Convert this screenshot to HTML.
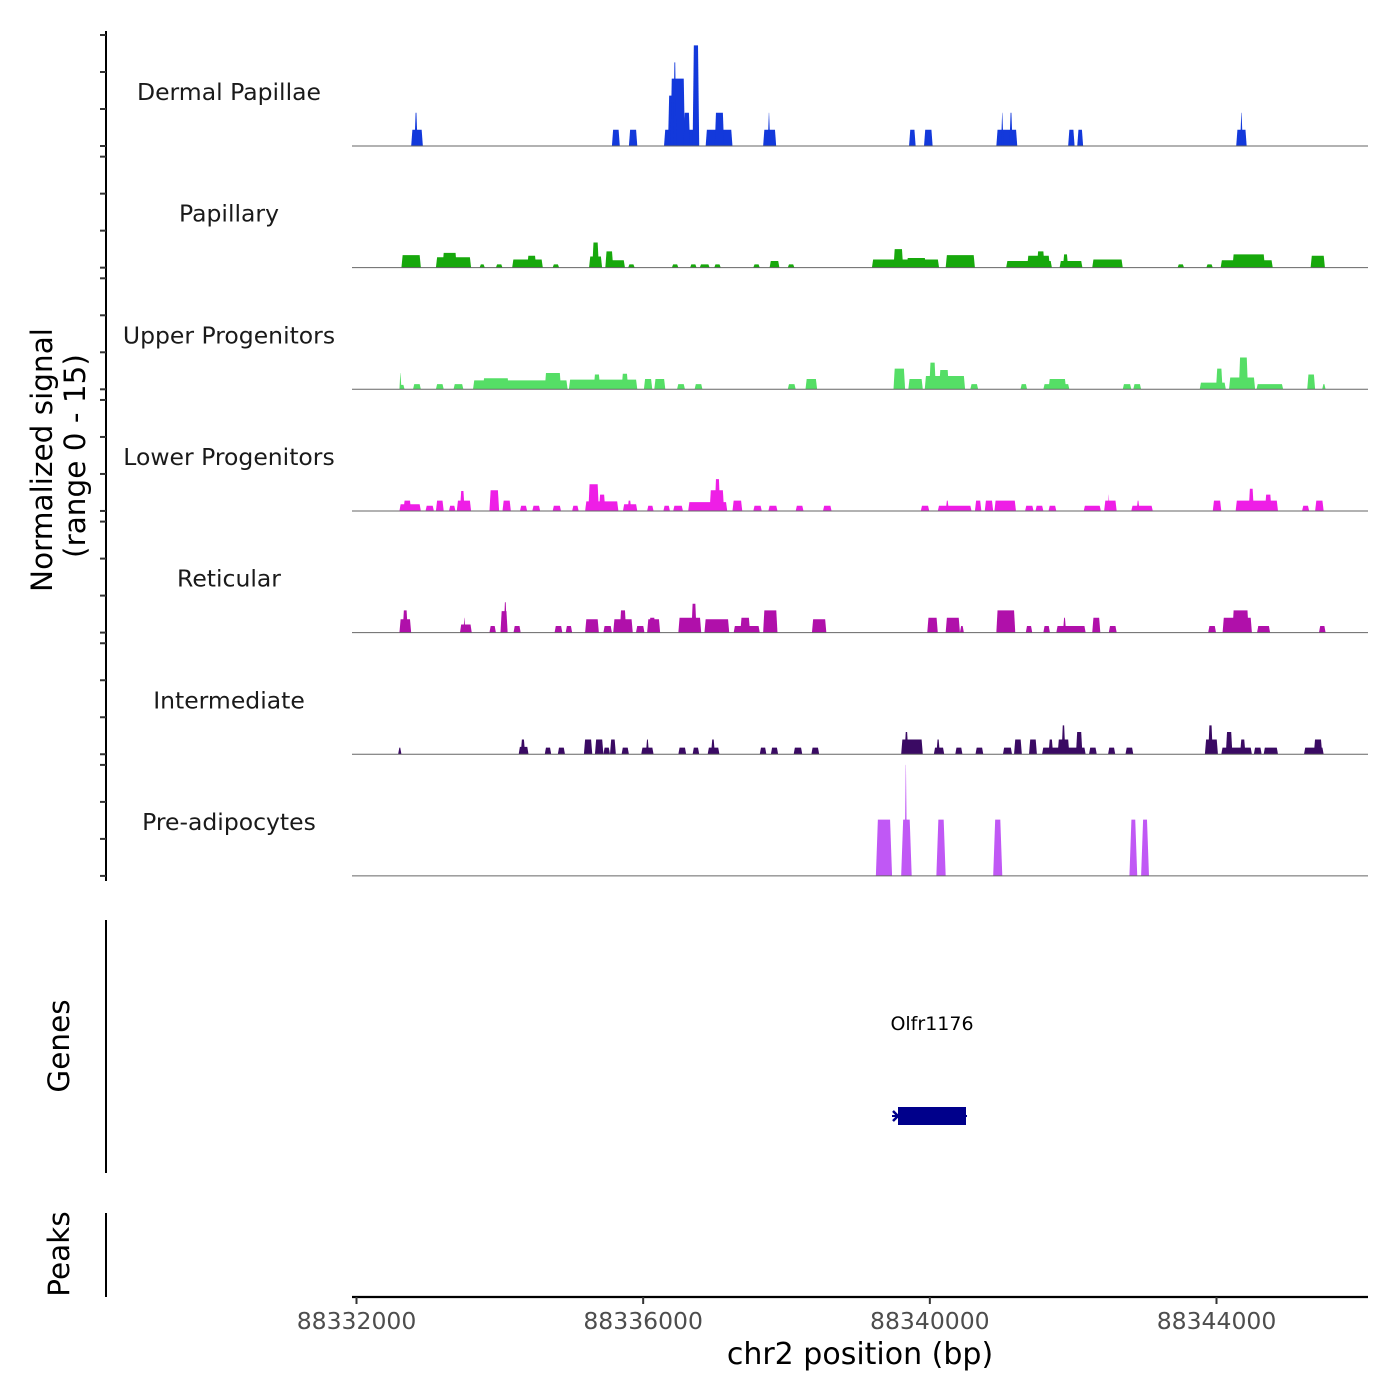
<!DOCTYPE html>
<html><head><meta charset="utf-8">
<style>
html,body{margin:0;padding:0;background:#fff;}
svg{display:block;font-family:"DejaVu Sans","Liberation Sans",sans-serif;}
</style></head>
<body>
<svg id="chart" width="1400" height="1400" viewBox="0 0 1400 1400" xmlns="http://www.w3.org/2000/svg">
  <rect width="1400" height="1400" fill="#fff"/>
  <g id="tracks"></g>
  <g id="leftaxis"></g>
  <text transform="translate(52,460) rotate(-90)" text-anchor="middle" font-size="29.5" fill="#000">Normalized signal</text>
  <text transform="translate(85,456) rotate(-90)" text-anchor="middle" font-size="29.5" fill="#000">(range 0 - 15)</text>

  <line x1="106" y1="920" x2="106" y2="1173" stroke="#000" stroke-width="2"/>
  <text transform="translate(69,1046) rotate(-90)" text-anchor="middle" font-size="29.5" fill="#000">Genes</text>
  <text x="932" y="1030" text-anchor="middle" font-size="19" fill="#000">Olfr1176</text>
  <g>
    <line x1="892" y1="1116" x2="967" y2="1116" stroke="#00008B" stroke-width="2"/>
    <rect x="898" y="1107" width="68" height="18" fill="#00008B"/>
    <polyline points="893,1111 898,1116 893,1121" fill="none" stroke="#00008B" stroke-width="2.5"/>
  </g>

  <line x1="106" y1="1213" x2="106" y2="1297" stroke="#000" stroke-width="2"/>
  <text transform="translate(69,1254) rotate(-90)" text-anchor="middle" font-size="29.5" fill="#000">Peaks</text>

  <g id="xaxis"></g>
  <text x="860" y="1364" text-anchor="middle" font-size="30" fill="#000">chr2 position (bp)</text>
</svg>
<script>
// ---- data ----
const regionStart = 88332000;          // bp
const xTicks = [88332000, 88336000, 88340000, 88344000];
const xTickLabels = ["88332000", "88336000", "88340000", "88344000"];
const trackNames = ["Dermal Papillae","Papillary","Upper Progenitors","Lower Progenitors","Reticular","Intermediate","Pre-adipocytes"];
const trackColors = ["#1339DB","#17A80C","#55DE66","#EE1EE6","#B010AA","#3A0A63","#C058F5"];
// each entry: [start offset bp, end offset bp, signal] (offsets relative to regionStart)
const dermalPapillae = [[763,926,2.2],[808,853,4.5],[3564,3674,2.2],[3801,3918,2.2],[4291,4765,2.2],[4346,4419,6.8],[4382,4583,9.1],[4419,4464,11.3],[4563,4655,4.5],[4690,4782,13.6],[4872,5246,2.2],[4999,5129,4.5],[5674,5856,2.2],[5737,5774,4.5],[7710,7802,2.2],[7919,8039,2.2],[8928,9220,2.2],[8993,9028,4.5],[9110,9155,4.5],[9930,10020,2.2],[10057,10139,2.2],[12275,12421,2.2],[12329,12367,4.5]];
const papillary = [[627,898,1.7],[1108,1599,1.4],[1200,1399,2.0],[1718,1790,0.45],[1945,2037,0.45],[2172,2600,1.1],[2381,2508,1.6],[2737,2827,0.45],[3245,3427,1.5],[3290,3382,3.4],[3472,3746,1.0],[3472,3582,2.2],[3791,3881,0.45],[4401,4491,0.45],[4655,4745,0.45],[4790,4927,0.45],[4992,5082,0.45],[5537,5627,0.45],[5764,5901,0.9],[6018,6110,0.45],[7192,8129,1.1],[7493,7628,2.5],[7675,7947,1.3],[8221,8629,1.7],[9065,9703,0.9],[9357,9676,1.6],[9494,9601,2.2],[9811,10129,0.9],[9857,9930,1.8],[10266,10692,1.1],[11457,11547,0.45],[11858,11948,0.45],[12058,12785,1.0],[12222,12676,1.8],[13313,13513,1.6]];
const upperProgenitors = [[599,671,0.6],[599,627,2.2],[789,898,0.7],[1108,1217,0.7],[1354,1491,0.7],[1626,2946,1.2],[1763,2127,1.5],[2627,2854,2.2],[2964,3918,1.3],[3310,3400,2.0],[3699,3791,2.1],[4010,4127,1.4],[4155,4309,1.4],[4473,4583,0.7],[4718,4827,0.7],[6018,6128,0.7],[6265,6427,1.4],[7493,7655,2.8],[7700,7902,1.4],[7929,8492,1.8],[7992,8084,3.6],[8129,8266,2.6],[8565,8674,0.7],[9265,9357,0.7],[9584,9947,0.7],[9656,9902,1.4],[10692,10811,0.7],[10839,10948,0.7],[11766,12130,0.9],[11993,12085,2.8],[12175,12539,1.6],[12312,12439,4.3],[12558,12930,0.7],[13266,13376,2.0],[13475,13522,0.7]];
const lowerProgenitors = [[599,898,0.9],[654,763,1.4],[963,1080,0.7],[1108,1217,1.4],[1290,1381,0.7],[1399,1599,1.4],[1444,1509,2.7],[1855,1990,2.8],[2037,2154,1.4],[2281,2381,0.7],[2453,2563,0.7],[2737,2854,0.7],[3009,3100,0.7],[3190,3654,1.3],[3235,3382,3.6],[3382,3472,2.2],[3718,3918,0.9],[3781,3836,1.4],[4055,4145,0.7],[4282,4374,0.7],[4419,4555,0.7],[4628,5173,1.2],[4927,5129,2.8],[4999,5074,4.3],[5246,5383,1.4],[5537,5655,0.7],[5747,5874,0.7],[6128,6237,0.7],[6509,6629,0.7],[7874,7992,0.7],[8111,8582,0.7],[8221,8266,1.4],[8629,8719,1.4],[8766,8884,1.4],[8901,9202,1.4],[9329,9447,0.7],[9474,9584,0.7],[9656,9765,0.7],[10147,10387,0.7],[10432,10607,1.4],[10487,10507,2.2],[10811,11111,0.7],[10884,10927,1.4],[11948,12067,1.4],[12267,12858,1.4],[12449,12521,3.0],[12676,12768,2.2],[13194,13293,0.7],[13376,13495,1.4]];
const reticular = [[599,763,1.8],[644,716,3.0],[1444,1608,1.1],[1491,1520,2.0],[1855,1945,0.9],[2009,2109,2.9],[2054,2099,4.1],[2191,2291,0.9],[2764,2872,0.9],[2919,3009,0.9],[3190,3382,1.8],[3445,3564,0.9],[3582,3855,1.8],[3674,3763,3.0],[3900,4018,0.9],[4055,4237,1.8],[4082,4172,2.0],[4491,4810,2.0],[4673,4745,3.9],[4855,5201,1.8],[5263,5627,0.9],[5355,5492,2.0],[5674,5874,3.0],[6355,6556,1.8],[7964,8111,2.0],[8221,8420,2.0],[8420,8475,0.9],[8928,9192,3.0],[9339,9429,0.9],[9584,9676,0.9],[9765,10174,0.9],[9857,9902,2.0],[10266,10379,2.0],[10497,10607,0.9],[11884,11993,0.9],[12085,12494,2.0],[12222,12449,3.0],[12566,12748,0.9],[13430,13522,0.9]];
const intermediate = [[581,627,0.9],[2263,2400,1.0],[2291,2353,2.0],[2627,2717,0.9],[2809,2909,0.9],[3173,3290,2.0],[3327,3445,2.0],[3445,3537,0.9],[3537,3619,2.0],[3699,3801,0.9],[3973,4145,0.9],[4037,4082,2.0],[4491,4600,0.9],[4690,4782,0.9],[4900,5064,0.9],[4947,5001,2.0],[5627,5719,0.9],[5782,5883,0.9],[6100,6220,0.9],[6347,6456,0.9],[7600,7902,2.0],[7647,7700,3.0],[8056,8201,0.9],[8091,8140,2.0],[8355,8455,0.9],[8637,8746,0.9],[9020,9147,0.9],[9175,9284,2.0],[9384,9494,2.0],[9566,10174,0.9],[9656,9720,2.0],[9783,9947,2.0],[9838,9891,3.9],[10039,10129,3.0],[10221,10329,0.9],[10487,10587,0.9],[10730,10839,0.9],[11838,12020,2.0],[11884,11948,3.9],[12067,12494,0.9],[12130,12222,3.0],[12329,12404,2.0],[12521,12630,0.9],[12658,12858,0.9],[13221,13495,0.9],[13358,13475,2.0]];
const preAdipocytes = [[7247,7473,7.6],[7600,7747,7.6],[7647,7683,15],[8091,8221,7.6],[8884,9011,7.6],[10785,10894,7.6],[10948,11058,7.6]];
const trackData = [dermalPapillae, papillary, upperProgenitors, lowerProgenitors, reticular, intermediate, preAdipocytes];
const yTicksSignal = [15, 10, 5, 0];

// ---- scales ----
const NS = "http://www.w3.org/2000/svg";
const plotX0 = 352, plotX1 = 1368;
const pxPerBp = (1216.5 - 356.5) / 12000;
function xScale(bp){ return 356.5 + (bp - regionStart) * pxPerBp; }
const trackTop0 = 35, trackStep = 121.65, trackH = 111;
function baseY(i){ return trackTop0 + trackStep * i + trackH; }
function yScale(i, v){ return baseY(i) - (v / 15) * trackH; }

const gTracks = document.getElementById('tracks');
trackData.forEach((arr, i) => {
  const g = document.createElementNS(NS, 'g');
  
  
  const b = baseY(i);
  arr.forEach(p => {
    const x0 = xScale(regionStart + p[0]), x1 = xScale(regionStart + p[1]);
    const yt = yScale(i, p[2]);
    const d = Math.min(i === 6 ? 2.0 : 1.2, (x1 - x0) / 2.2);
    const poly = document.createElementNS(NS, 'polygon');
    poly.setAttribute('points', `${x0},${b} ${x0 + d},${yt} ${x1 - d},${yt} ${x1},${b}`);
    poly.setAttribute('fill', trackColors[i]);
    
    
    g.appendChild(poly);
  });
  const base = document.createElementNS(NS, 'line');
  base.setAttribute('x1', plotX0); base.setAttribute('x2', plotX1);
  base.setAttribute('y1', b); base.setAttribute('y2', b);
  base.setAttribute('stroke', '#666'); base.setAttribute('stroke-width', '1');
  
  
  g.appendChild(base);
  const lab = document.createElementNS(NS, 'text');
  lab.setAttribute('x', 229); lab.setAttribute('y', b - 46);
  lab.setAttribute('text-anchor', 'middle'); lab.setAttribute('font-size', '23.5');
  lab.setAttribute('fill', '#1a1a1a');
  
  
  lab.textContent = trackNames[i];
  g.appendChild(lab);
  gTracks.appendChild(g);
});

// left axis
const gL = document.getElementById('leftaxis');
const ax = document.createElementNS(NS, 'line');
ax.setAttribute('x1', 106); ax.setAttribute('x2', 106); ax.setAttribute('y1', 31); ax.setAttribute('y2', 881);
ax.setAttribute('stroke', '#000'); ax.setAttribute('stroke-width', '2');


gL.appendChild(ax);
trackData.forEach((arr, i) => {
  yTicksSignal.forEach(v => {
    const y = yScale(i, v);
    const t = document.createElementNS(NS, 'line');
    t.setAttribute('x1', 100); t.setAttribute('x2', 106); t.setAttribute('y1', y); t.setAttribute('y2', y);
    t.setAttribute('stroke', '#333'); t.setAttribute('stroke-width', '2');
    
    
    gL.appendChild(t);
  });
});

// x axis
const gX = document.getElementById('xaxis');
const xl = document.createElementNS(NS, 'line');
xl.setAttribute('x1', plotX0); xl.setAttribute('x2', plotX1); xl.setAttribute('y1', 1297); xl.setAttribute('y2', 1297);
xl.setAttribute('stroke', '#000'); xl.setAttribute('stroke-width', '2.2');


gX.appendChild(xl);
xTicks.forEach((v, k) => {
  const x = xScale(v);
  const t = document.createElementNS(NS, 'line');
  t.setAttribute('x1', x); t.setAttribute('x2', x); t.setAttribute('y1', 1297); t.setAttribute('y2', 1304);
  t.setAttribute('stroke', '#333'); t.setAttribute('stroke-width', '2');
  
  
  gX.appendChild(t);
  const tx = document.createElementNS(NS, 'text');
  tx.setAttribute('x', x); tx.setAttribute('y', 1329);
  tx.setAttribute('text-anchor', 'middle'); tx.setAttribute('font-size', '23.5');
  tx.setAttribute('fill', '#4d4d4d');
  
  
  tx.textContent = xTickLabels[k];
  gX.appendChild(tx);
});
</script>
</body></html>
